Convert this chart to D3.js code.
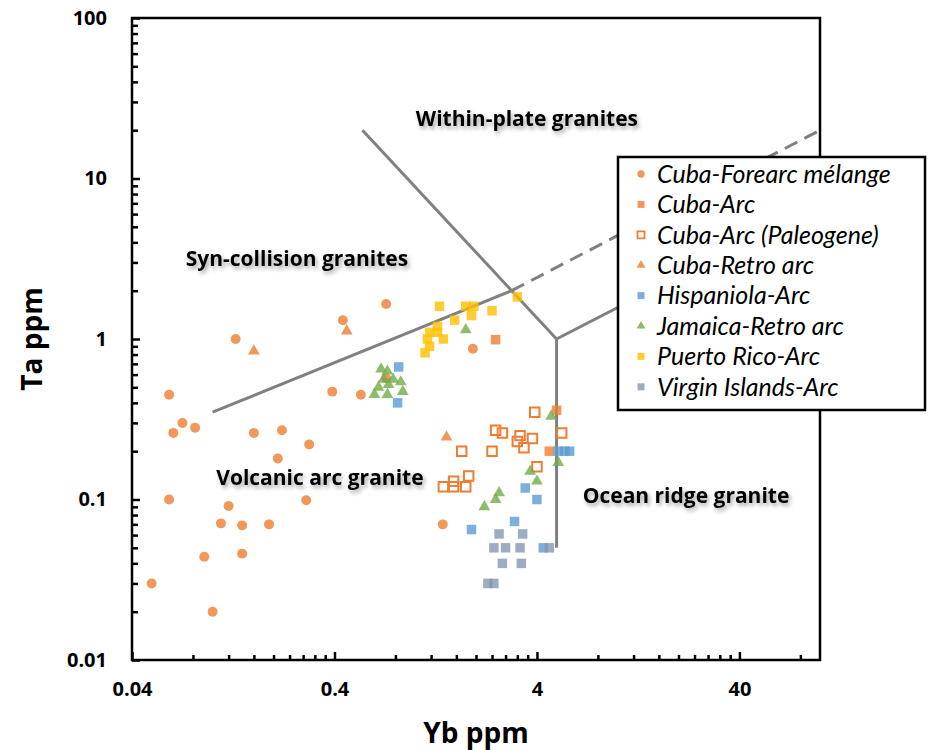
<!DOCTYPE html>
<html><head><meta charset="utf-8">
<script src="https://cdn.jsdelivr.net/npm/d3@7"></script>
<style>
html,body{margin:0;padding:0;background:#fff;}
svg{display:block;font-family:"Open Sans",sans-serif;}
</style></head>
<body><svg id="chart" width="928" height="750"></svg>
<script>
// ---------- DATA ----------
const seriesNames = ["Cuba-Forearc mélange","Cuba-Arc","Cuba-Arc (Paleogene)","Cuba-Retro arc","Hispaniola-Arc","Jamaica-Retro arc","Puerto Rico-Arc","Virgin Islands-Arc"];

const forearcYb = [0.72,0.44,0.13,0.061,0.39,0.54,0.071,0.064,0.082,0.16,0.22,0.30,0.21,0.061,0.12,0.29,0.11,0.14,0.19,0.091,0.14,0.050,0.10,0.72,1.93,1.37];
const forearcTa = [1.65,1.31,1.0,0.45,0.47,0.45,0.30,0.26,0.28,0.26,0.27,0.22,0.18,0.10,0.091,0.099,0.071,0.069,0.070,0.044,0.046,0.030,0.020,0.57,0.87,0.070];

const cubaArcYb = [2.5,5.0,4.6];
const cubaArcTa = [0.99,0.36,0.20];

const paleoYb = [3.9,5.3,2.5,2.7,3.3,3.8,3.2,3.45,1.7,2.4,4.0,1.84,1.55,1.38,1.55,1.78];
const paleoTa = [0.35,0.26,0.27,0.26,0.25,0.24,0.23,0.21,0.20,0.20,0.16,0.14,0.13,0.12,0.12,0.12];

const cubaRetroYb = [0.46,0.16,1.43];
const cubaRetroTa = [1.12,0.84,0.245];

const hispYb = [0.83,0.82,5.1,5.5,5.8,3.5,4.0,3.1,1.9,4.3];
const hispTa = [0.67,0.40,0.20,0.20,0.20,0.118,0.10,0.073,0.065,0.05];

const jamaicaYb = [0.68,0.73,0.78,0.85,0.70,0.66,0.74,0.87,0.63,0.73,1.78,4.7,5.1,3.7,4.0,2.6,2.5,2.2];
const jamaicaTa = [0.65,0.63,0.56,0.54,0.56,0.50,0.52,0.47,0.45,0.45,1.14,0.33,0.17,0.15,0.13,0.11,0.10,0.09];

const prYb = [1.32,1.78,1.95,1.9,2.4,1.57,1.29,1.18,1.29,1.15,1.38,1.18,1.12,3.2];
const prTa = [1.6,1.6,1.6,1.4,1.5,1.31,1.2,1.1,1.1,1.0,1.0,0.9,0.82,1.83];

const viYb = [2.6,3.4,2.45,2.8,3.3,2.7,3.35,2.29,2.45,4.6];
const viTa = [0.061,0.061,0.05,0.05,0.05,0.04,0.04,0.03,0.03,0.05];

// discrimination boundaries (Yb, Ta)
const synColVagLine = [[0.1,0.35],[3,2]];
const wpgLine = [[0.55,20],[3,2],[5,1],[5,0.05]];
const orgWpgLine = [[5,1],[100,7]];
const dashedLine = [[3,2],[100,20]];

const regionLabels = ["Within-plate granites","Syn-collision granites","Volcanic arc granite","Ocean ridge granite"];
const regionLabelYb = [3.57,0.261,0.339,21.8];
const regionLabelTa = [21.2,2.85,0.123,0.095];

const xMajorTicks = [0.04,0.4,4,40];
const xTickLabels = ["0.04","0.4","4","40"];
const yMajorTicks = [0.01,0.1,1,10,100];
const yTickLabels = ["0.01","0.1","1","10","100"];

// ---------- SETUP ----------
const svg = d3.select("#chart");
const L=132, R=820, T=18, B=660;
const x = d3.scaleLog().domain([0.04,100]).range([L,R]);
const y = d3.scaleLog().domain([0.01,100]).range([B,T]);

const defs = svg.append("defs");
const f = defs.append("filter").attr("id","shadow").attr("x","-10%").attr("y","-30%").attr("width","130%").attr("height","180%");
f.append("feDropShadow").attr("dx",2).attr("dy",3).attr("stdDeviation",2).attr("flood-color","#000").attr("flood-opacity",0.35);

// minor ticks
const xMinor = [];
xMajorTicks.forEach(m=>{for(let k=2;k<=9;k++){const v=m*k; if(v<=100) xMinor.push(v);} });
const yMinor = [];
[0.01,0.1,1,10].forEach(m=>{for(let k=2;k<=9;k++) yMinor.push(m*k);});

const xAxisMinor = d3.axisBottom(x).tickValues(xMinor).tickSize(-5).tickFormat("");
const xAxisMajor = d3.axisBottom(x).tickValues(xMajorTicks).tickSize(-8).tickPadding(22).tickFormat((d,i)=>xTickLabels[i]);
const yAxisMinor = d3.axisLeft(y).tickValues(yMinor).tickSize(-6).tickFormat("");
const yAxisMajor = d3.axisLeft(y).tickValues(yMajorTicks).tickSize(-8).tickPadding(25).tickFormat((d,i)=>yTickLabels[i]);

function styleAxis(g){
  g.select(".domain").remove();
  g.selectAll(".tick line").attr("stroke","#000").attr("stroke-width",2.5);
  g.selectAll(".tick text").attr("fill","#000").style("font-family","'Open Sans',sans-serif").style("font-weight","bold").style("font-size","20px");
}
svg.append("g").attr("transform",`translate(0,${B})`).call(xAxisMinor).call(styleAxis);
svg.append("g").attr("transform",`translate(0,${B})`).call(xAxisMajor).call(styleAxis);
svg.append("g").attr("transform",`translate(${L},0)`).call(yAxisMinor).call(styleAxis);
svg.append("g").attr("transform",`translate(${L},0)`).call(yAxisMajor).call(styleAxis);

// frame
svg.append("rect").attr("x",L).attr("y",T).attr("width",R-L).attr("height",B-T)
  .attr("fill","none").attr("stroke","#000").attr("stroke-width",2.5);

// axis titles
svg.append("text").attr("x",(L+R)/2).attr("y",743).attr("text-anchor","middle")
  .style("font-weight","bold").style("font-size","28px").text("Yb ppm");
svg.append("text").attr("transform",`translate(42,${(T+B)/2}) rotate(-90)`).attr("text-anchor","middle")
  .style("font-weight","bold").style("font-size","28px").text("Ta ppm");

// boundary lines
const line = d3.line().x(d=>x(d[0])).y(d=>y(d[1]));
const lg = svg.append("g");
[synColVagLine,wpgLine,orgWpgLine].forEach(l=>{
  lg.append("path").attr("d",line(l)).attr("fill","none").attr("stroke","#808080").attr("stroke-width",3).attr("stroke-linejoin","miter");
});
lg.append("path").attr("d",line(dashedLine)).attr("fill","none").attr("stroke","#808080").attr("stroke-width",3).attr("stroke-dasharray","14,8");

// region labels
svg.append("g").selectAll("text").data(regionLabels).join("text")
  .attr("x",(d,i)=>x(regionLabelYb[i])).attr("y",(d,i)=>y(regionLabelTa[i]))
  .attr("text-anchor","middle").attr("filter","url(#shadow)")
  .style("font-weight","bold").style("font-size","21px").text(d=>d);

// series definitions
const ORANGE="#ED7D31";
const series = [
  {name:seriesNames[0], xs:forearcYb, ys:forearcTa, sym:d3.symbolCircle, size:78, fill:ORANGE, open:false},
  {name:seriesNames[1], xs:cubaArcYb, ys:cubaArcTa, sym:d3.symbolSquare, size:90, fill:ORANGE, open:false},
  {name:seriesNames[2], xs:paleoYb, ys:paleoTa, sym:d3.symbolSquare, size:90, fill:ORANGE, open:true},
  {name:seriesNames[3], xs:cubaRetroYb, ys:cubaRetroTa, sym:d3.symbolTriangle, size:60, fill:ORANGE, open:false},
  {name:seriesNames[4], xs:hispYb, ys:hispTa, sym:d3.symbolSquare, size:90, fill:"#5B9BD5", open:false},
  {name:seriesNames[5], xs:jamaicaYb, ys:jamaicaTa, sym:d3.symbolTriangle, size:60, fill:"#70AD47", open:false},
  {name:seriesNames[6], xs:prYb, ys:prTa, sym:d3.symbolSquare, size:90, fill:"#FFC000", open:false},
  {name:seriesNames[7], xs:viYb, ys:viTa, sym:d3.symbolSquare, size:90, fill:"#8497B0", open:false}
];

const pg = svg.append("g");
series.forEach(s=>{
  const pts = s.xs.map((v,i)=>[v,s.ys[i]]);
  pg.append("g").selectAll("path").data(pts).join("path")
    .attr("transform",d=>`translate(${x(d[0])},${y(d[1])})`)
    .attr("d",d3.symbol().type(s.sym).size(s.size))
    .attr("fill",s.open?"none":s.fill)
    .attr("fill-opacity",s.open?null:0.8)
    .attr("stroke",s.open?s.fill:"none")
    .attr("stroke-width",s.open?2:0);
});

// legend
const leg = svg.append("g");
leg.append("rect").attr("x",618).attr("y",157).attr("width",307).attr("height",253)
  .attr("fill","#fff").attr("stroke","#000").attr("stroke-width",2.5);
series.forEach((s,i)=>{
  const cy = 174 + i*30.4;
  leg.append("path").attr("transform",`translate(641,${cy})`)
    .attr("d",d3.symbol().type(s.sym).size(s.sym===d3.symbolTriangle?34:(s.sym===d3.symbolCircle?42:49)))
    .attr("fill",s.open?"none":s.fill).attr("fill-opacity",s.open?null:0.8)
    .attr("stroke",s.open?s.fill:"none").attr("stroke-width",s.open?1.8:0);
  leg.append("text").attr("x",657).attr("y",cy).attr("dy","0.35em")
    .style("font-family","Lato, 'Open Sans', sans-serif")
    .style("font-style","italic").style("font-size","25px").text(s.name);
});
</script></body></html>
